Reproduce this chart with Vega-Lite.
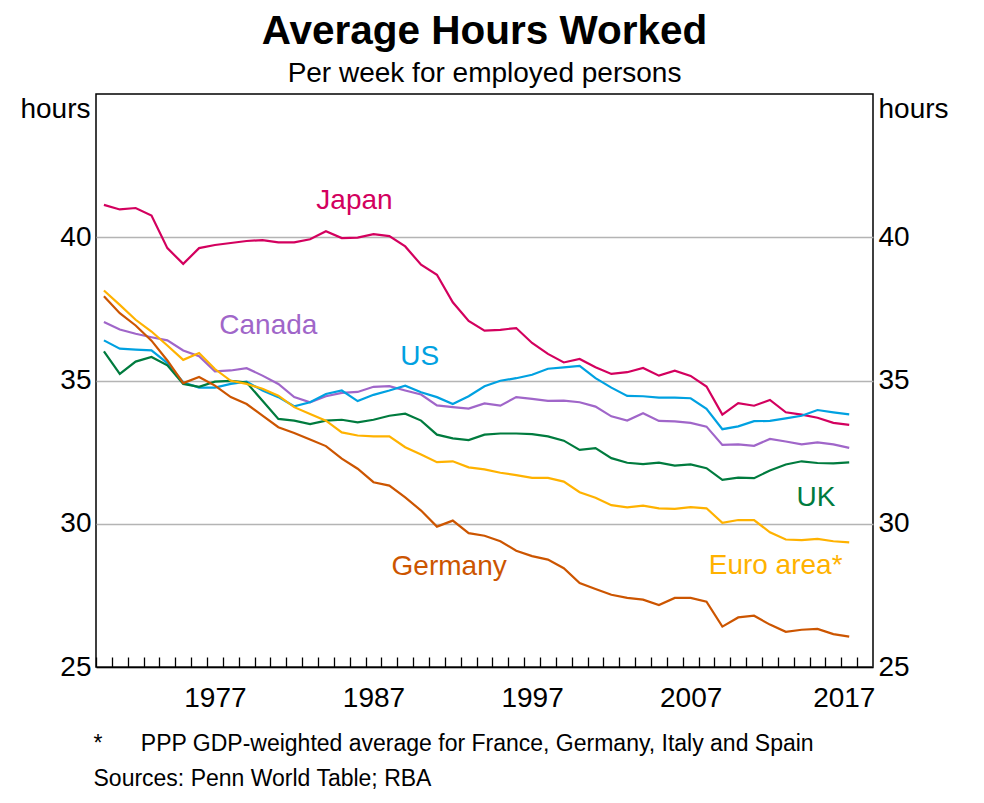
{
  "$schema": "https://vega.github.io/schema/vega-lite/v6.json",
  "autosize": {"type": "none"},
  "width": 777,
  "height": 573,
  "padding": {"left": 96, "top": 94, "right": 111, "bottom": 136},
  "background": "white",
  "title": {
    "text": "Average Hours Worked",
    "subtitle": "Per week for employed persons",
    "anchor": "middle",
    "frame": "group",
    "font": "Liberation Sans",
    "fontSize": 40.5,
    "fontWeight": "bold",
    "color": "black",
    "subtitleFont": "Liberation Sans",
    "subtitleFontSize": 28,
    "subtitleColor": "black",
    "subtitlePadding": 8,
    "offset": 6
  },
  "config": {
    "font": "Liberation Sans",
    "view": {"stroke": "black", "strokeWidth": 1.5}
  },
  "datasets": {
    "series": [
      {"country":"Japan","year":1970,"hours":41.13},{"country":"Japan","year":1971,"hours":40.97},{"country":"Japan","year":1972,"hours":41.02},{"country":"Japan","year":1973,"hours":40.76},{"country":"Japan","year":1974,"hours":39.62},{"country":"Japan","year":1975,"hours":39.07},{"country":"Japan","year":1976,"hours":39.62},{"country":"Japan","year":1977,"hours":39.73},{"country":"Japan","year":1978,"hours":39.8},{"country":"Japan","year":1979,"hours":39.87},{"country":"Japan","year":1980,"hours":39.9},{"country":"Japan","year":1981,"hours":39.82},{"country":"Japan","year":1982,"hours":39.82},{"country":"Japan","year":1983,"hours":39.93},{"country":"Japan","year":1984,"hours":40.21},{"country":"Japan","year":1985,"hours":39.97},{"country":"Japan","year":1986,"hours":39.99},{"country":"Japan","year":1987,"hours":40.11},{"country":"Japan","year":1988,"hours":40.04},{"country":"Japan","year":1989,"hours":39.68},{"country":"Japan","year":1990,"hours":39.04},{"country":"Japan","year":1991,"hours":38.69},{"country":"Japan","year":1992,"hours":37.73},{"country":"Japan","year":1993,"hours":37.08},{"country":"Japan","year":1994,"hours":36.74},{"country":"Japan","year":1995,"hours":36.77},{"country":"Japan","year":1996,"hours":36.83},{"country":"Japan","year":1997,"hours":36.31},{"country":"Japan","year":1998,"hours":35.93},{"country":"Japan","year":1999,"hours":35.63},{"country":"Japan","year":2000,"hours":35.75},{"country":"Japan","year":2001,"hours":35.46},{"country":"Japan","year":2002,"hours":35.23},{"country":"Japan","year":2003,"hours":35.29},{"country":"Japan","year":2004,"hours":35.44},{"country":"Japan","year":2005,"hours":35.17},{"country":"Japan","year":2006,"hours":35.34},{"country":"Japan","year":2007,"hours":35.16},{"country":"Japan","year":2008,"hours":34.79},{"country":"Japan","year":2009,"hours":33.81},{"country":"Japan","year":2010,"hours":34.21},{"country":"Japan","year":2011,"hours":34.12},{"country":"Japan","year":2012,"hours":34.32},{"country":"Japan","year":2013,"hours":33.89},{"country":"Japan","year":2014,"hours":33.81},{"country":"Japan","year":2015,"hours":33.7},{"country":"Japan","year":2016,"hours":33.52},{"country":"Japan","year":2017,"hours":33.45},
      {"country":"Canada","year":1970,"hours":37.04},{"country":"Canada","year":1971,"hours":36.78},{"country":"Canada","year":1972,"hours":36.63},{"country":"Canada","year":1973,"hours":36.51},{"country":"Canada","year":1974,"hours":36.4},{"country":"Canada","year":1975,"hours":36.05},{"country":"Canada","year":1976,"hours":35.85},{"country":"Canada","year":1977,"hours":35.32},{"country":"Canada","year":1978,"hours":35.35},{"country":"Canada","year":1979,"hours":35.43},{"country":"Canada","year":1980,"hours":35.17},{"country":"Canada","year":1981,"hours":34.88},{"country":"Canada","year":1982,"hours":34.42},{"country":"Canada","year":1983,"hours":34.24},{"country":"Canada","year":1984,"hours":34.45},{"country":"Canada","year":1985,"hours":34.57},{"country":"Canada","year":1986,"hours":34.6},{"country":"Canada","year":1987,"hours":34.78},{"country":"Canada","year":1988,"hours":34.8},{"country":"Canada","year":1989,"hours":34.65},{"country":"Canada","year":1990,"hours":34.51},{"country":"Canada","year":1991,"hours":34.13},{"country":"Canada","year":1992,"hours":34.07},{"country":"Canada","year":1993,"hours":34.02},{"country":"Canada","year":1994,"hours":34.2},{"country":"Canada","year":1995,"hours":34.12},{"country":"Canada","year":1996,"hours":34.42},{"country":"Canada","year":1997,"hours":34.36},{"country":"Canada","year":1998,"hours":34.29},{"country":"Canada","year":1999,"hours":34.3},{"country":"Canada","year":2000,"hours":34.24},{"country":"Canada","year":2001,"hours":34.09},{"country":"Canada","year":2002,"hours":33.75},{"country":"Canada","year":2003,"hours":33.6},{"country":"Canada","year":2004,"hours":33.86},{"country":"Canada","year":2005,"hours":33.59},{"country":"Canada","year":2006,"hours":33.57},{"country":"Canada","year":2007,"hours":33.52},{"country":"Canada","year":2008,"hours":33.39},{"country":"Canada","year":2009,"hours":32.75},{"country":"Canada","year":2010,"hours":32.77},{"country":"Canada","year":2011,"hours":32.72},{"country":"Canada","year":2012,"hours":32.96},{"country":"Canada","year":2013,"hours":32.87},{"country":"Canada","year":2014,"hours":32.77},{"country":"Canada","year":2015,"hours":32.84},{"country":"Canada","year":2016,"hours":32.77},{"country":"Canada","year":2017,"hours":32.65},
      {"country":"US","year":1970,"hours":36.4},{"country":"US","year":1971,"hours":36.11},{"country":"US","year":1972,"hours":36.08},{"country":"US","year":1973,"hours":36.05},{"country":"US","year":1974,"hours":35.61},{"country":"US","year":1975,"hours":34.94},{"country":"US","year":1976,"hours":34.75},{"country":"US","year":1977,"hours":34.75},{"country":"US","year":1978,"hours":34.88},{"country":"US","year":1979,"hours":34.96},{"country":"US","year":1980,"hours":34.65},{"country":"US","year":1981,"hours":34.42},{"country":"US","year":1982,"hours":34.1},{"country":"US","year":1983,"hours":34.24},{"country":"US","year":1984,"hours":34.53},{"country":"US","year":1985,"hours":34.65},{"country":"US","year":1986,"hours":34.28},{"country":"US","year":1987,"hours":34.5},{"country":"US","year":1988,"hours":34.65},{"country":"US","year":1989,"hours":34.82},{"country":"US","year":1990,"hours":34.59},{"country":"US","year":1991,"hours":34.42},{"country":"US","year":1992,"hours":34.18},{"country":"US","year":1993,"hours":34.45},{"country":"US","year":1994,"hours":34.8},{"country":"US","year":1995,"hours":34.99},{"country":"US","year":1996,"hours":35.08},{"country":"US","year":1997,"hours":35.2},{"country":"US","year":1998,"hours":35.41},{"country":"US","year":1999,"hours":35.46},{"country":"US","year":2000,"hours":35.51},{"country":"US","year":2001,"hours":35.08},{"country":"US","year":2002,"hours":34.75},{"country":"US","year":2003,"hours":34.46},{"country":"US","year":2004,"hours":34.45},{"country":"US","year":2005,"hours":34.4},{"country":"US","year":2006,"hours":34.4},{"country":"US","year":2007,"hours":34.38},{"country":"US","year":2008,"hours":34.01},{"country":"US","year":2009,"hours":33.3},{"country":"US","year":2010,"hours":33.4},{"country":"US","year":2011,"hours":33.58},{"country":"US","year":2012,"hours":33.59},{"country":"US","year":2013,"hours":33.68},{"country":"US","year":2014,"hours":33.77},{"country":"US","year":2015,"hours":33.97},{"country":"US","year":2016,"hours":33.89},{"country":"US","year":2017,"hours":33.82},
      {"country":"UK","year":1970,"hours":36.02},{"country":"UK","year":1971,"hours":35.23},{"country":"UK","year":1972,"hours":35.66},{"country":"UK","year":1973,"hours":35.82},{"country":"UK","year":1974,"hours":35.53},{"country":"UK","year":1975,"hours":34.88},{"country":"UK","year":1976,"hours":34.78},{"country":"UK","year":1977,"hours":34.96},{"country":"UK","year":1978,"hours":34.99},{"country":"UK","year":1979,"hours":34.93},{"country":"UK","year":1980,"hours":34.29},{"country":"UK","year":1981,"hours":33.66},{"country":"UK","year":1982,"hours":33.6},{"country":"UK","year":1983,"hours":33.48},{"country":"UK","year":1984,"hours":33.6},{"country":"UK","year":1985,"hours":33.63},{"country":"UK","year":1986,"hours":33.54},{"country":"UK","year":1987,"hours":33.63},{"country":"UK","year":1988,"hours":33.77},{"country":"UK","year":1989,"hours":33.84},{"country":"UK","year":1990,"hours":33.6},{"country":"UK","year":1991,"hours":33.11},{"country":"UK","year":1992,"hours":32.98},{"country":"UK","year":1993,"hours":32.92},{"country":"UK","year":1994,"hours":33.11},{"country":"UK","year":1995,"hours":33.15},{"country":"UK","year":1996,"hours":33.15},{"country":"UK","year":1997,"hours":33.13},{"country":"UK","year":1998,"hours":33.05},{"country":"UK","year":1999,"hours":32.9},{"country":"UK","year":2000,"hours":32.58},{"country":"UK","year":2001,"hours":32.64},{"country":"UK","year":2002,"hours":32.29},{"country":"UK","year":2003,"hours":32.13},{"country":"UK","year":2004,"hours":32.08},{"country":"UK","year":2005,"hours":32.13},{"country":"UK","year":2006,"hours":32.03},{"country":"UK","year":2007,"hours":32.07},{"country":"UK","year":2008,"hours":31.94},{"country":"UK","year":2009,"hours":31.53},{"country":"UK","year":2010,"hours":31.61},{"country":"UK","year":2011,"hours":31.59},{"country":"UK","year":2012,"hours":31.86},{"country":"UK","year":2013,"hours":32.07},{"country":"UK","year":2014,"hours":32.18},{"country":"UK","year":2015,"hours":32.12},{"country":"UK","year":2016,"hours":32.11},{"country":"UK","year":2017,"hours":32.14},
      {"country":"Germany","year":1970,"hours":37.94},{"country":"Germany","year":1971,"hours":37.35},{"country":"Germany","year":1972,"hours":36.92},{"country":"Germany","year":1973,"hours":36.39},{"country":"Germany","year":1974,"hours":35.7},{"country":"Germany","year":1975,"hours":34.91},{"country":"Germany","year":1976,"hours":35.12},{"country":"Germany","year":1977,"hours":34.82},{"country":"Germany","year":1978,"hours":34.42},{"country":"Germany","year":1979,"hours":34.18},{"country":"Germany","year":1980,"hours":33.77},{"country":"Germany","year":1981,"hours":33.37},{"country":"Germany","year":1982,"hours":33.17},{"country":"Germany","year":1983,"hours":32.94},{"country":"Germany","year":1984,"hours":32.71},{"country":"Germany","year":1985,"hours":32.27},{"country":"Germany","year":1986,"hours":31.92},{"country":"Germany","year":1987,"hours":31.45},{"country":"Germany","year":1988,"hours":31.33},{"country":"Germany","year":1989,"hours":30.92},{"country":"Germany","year":1990,"hours":30.46},{"country":"Germany","year":1991,"hours":29.9},{"country":"Germany","year":1992,"hours":30.11},{"country":"Germany","year":1993,"hours":29.67},{"country":"Germany","year":1994,"hours":29.58},{"country":"Germany","year":1995,"hours":29.39},{"country":"Germany","year":1996,"hours":29.06},{"country":"Germany","year":1997,"hours":28.87},{"country":"Germany","year":1998,"hours":28.75},{"country":"Germany","year":1999,"hours":28.45},{"country":"Germany","year":2000,"hours":27.93},{"country":"Germany","year":2001,"hours":27.72},{"country":"Germany","year":2002,"hours":27.52},{"country":"Germany","year":2003,"hours":27.41},{"country":"Germany","year":2004,"hours":27.35},{"country":"Germany","year":2005,"hours":27.16},{"country":"Germany","year":2006,"hours":27.41},{"country":"Germany","year":2007,"hours":27.41},{"country":"Germany","year":2008,"hours":27.28},{"country":"Germany","year":2009,"hours":26.41},{"country":"Germany","year":2010,"hours":26.73},{"country":"Germany","year":2011,"hours":26.79},{"country":"Germany","year":2012,"hours":26.48},{"country":"Germany","year":2013,"hours":26.23},{"country":"Germany","year":2014,"hours":26.3},{"country":"Germany","year":2015,"hours":26.33},{"country":"Germany","year":2016,"hours":26.15},{"country":"Germany","year":2017,"hours":26.06},
      {"country":"Euro area","year":1970,"hours":38.14},{"country":"Euro area","year":1971,"hours":37.64},{"country":"Euro area","year":1972,"hours":37.12},{"country":"Euro area","year":1973,"hours":36.71},{"country":"Euro area","year":1974,"hours":36.22},{"country":"Euro area","year":1975,"hours":35.72},{"country":"Euro area","year":1976,"hours":35.96},{"country":"Euro area","year":1977,"hours":35.4},{"country":"Euro area","year":1978,"hours":34.99},{"country":"Euro area","year":1979,"hours":34.88},{"country":"Euro area","year":1980,"hours":34.71},{"country":"Euro area","year":1981,"hours":34.47},{"country":"Euro area","year":1982,"hours":34.07},{"country":"Euro area","year":1983,"hours":33.83},{"country":"Euro area","year":1984,"hours":33.6},{"country":"Euro area","year":1985,"hours":33.19},{"country":"Euro area","year":1986,"hours":33.08},{"country":"Euro area","year":1987,"hours":33.05},{"country":"Euro area","year":1988,"hours":33.05},{"country":"Euro area","year":1989,"hours":32.67},{"country":"Euro area","year":1990,"hours":32.42},{"country":"Euro area","year":1991,"hours":32.15},{"country":"Euro area","year":1992,"hours":32.18},{"country":"Euro area","year":1993,"hours":31.97},{"country":"Euro area","year":1994,"hours":31.9},{"country":"Euro area","year":1995,"hours":31.78},{"country":"Euro area","year":1996,"hours":31.7},{"country":"Euro area","year":1997,"hours":31.6},{"country":"Euro area","year":1998,"hours":31.6},{"country":"Euro area","year":1999,"hours":31.47},{"country":"Euro area","year":2000,"hours":31.1},{"country":"Euro area","year":2001,"hours":30.91},{"country":"Euro area","year":2002,"hours":30.65},{"country":"Euro area","year":2003,"hours":30.57},{"country":"Euro area","year":2004,"hours":30.63},{"country":"Euro area","year":2005,"hours":30.54},{"country":"Euro area","year":2006,"hours":30.52},{"country":"Euro area","year":2007,"hours":30.58},{"country":"Euro area","year":2008,"hours":30.54},{"country":"Euro area","year":2009,"hours":30.03},{"country":"Euro area","year":2010,"hours":30.13},{"country":"Euro area","year":2011,"hours":30.13},{"country":"Euro area","year":2012,"hours":29.7},{"country":"Euro area","year":2013,"hours":29.45},{"country":"Euro area","year":2014,"hours":29.43},{"country":"Euro area","year":2015,"hours":29.47},{"country":"Euro area","year":2016,"hours":29.39},{"country":"Euro area","year":2017,"hours":29.35}
    ],
    "labels": [
      {"label": "Japan", "country": "Japan", "year": 1985.8, "hours": 40.98},
      {"label": "Canada", "country": "Canada", "year": 1980.37, "hours": 36.63},
      {"label": "US", "country": "US", "year": 1989.92, "hours": 35.55},
      {"label": "UK", "country": "UK", "year": 2014.9, "hours": 30.63},
      {"label": "Germany", "country": "Germany", "year": 1991.77, "hours": 28.2},
      {"label": "Euro area*", "country": "Euro area", "year": 2012.36, "hours": 28.25}
    ]
  },
  "encoding": {
    "x": {
      "field": "year",
      "type": "quantitative",
      "scale": {"domain": [1969.5, 2018.5], "nice": false, "zero": false},
      "axis": {
        "orient": "bottom",
        "values": [1970,1971,1972,1973,1974,1975,1976,1977,1978,1979,1980,1981,1982,1983,1984,1985,1986,1987,1988,1989,1990,1991,1992,1993,1994,1995,1996,1997,1998,1999,2000,2001,2002,2003,2004,2005,2006,2007,2008,2009,2010,2011,2012,2013,2014,2015,2016,2017,2018],
        "format": "d",
        "labelExpr": "(datum.value - 1977) % 10 === 0 ? datum.label : ''",
        "tickOffset": -7.93,
        "labelOffset": {"condition": {"test": "datum.value === 2017", "value": 2.5}, "value": 7.93},
        "tickSize": -10,
        "tickColor": "black",
        "tickWidth": 1.3,
        "domainColor": "black",
        "domainWidth": 1.5,
        "grid": false,
        "labelFontSize": 28,
        "labelColor": "black",
        "labelBaseline": "alphabetic",
        "labelPadding": 49.4,
        "labelOverlap": false,
        "labelBound": false,
        "labelFlush": false,
        "title": ["*\u00a0\u00a0\u00a0\u00a0\u00a0\u00a0PPP GDP-weighted average for France, Germany, Italy and Spain", "Sources: Penn World Table; RBA"],
        "titleFontSize": 23,
        "titleFontWeight": "normal",
        "titleColor": "black",
        "titleAlign": "left",
        "titleBaseline": "alphabetic",
        "titleX": -3,
        "titleY": 83,
        "titleLineHeight": 35
      }
    }
  },
  "layer": [
    {
      "data": {"name": "series"},
      "mark": {"type": "line", "strokeWidth": 2.2},
      "encoding": {
        "y": {
          "field": "hours",
          "type": "quantitative",
          "scale": {"domain": [25, 45], "nice": false, "zero": false},
          "axis": {
            "orient": "left",
            "values": [25, 30, 35, 40],
            "grid": true,
            "gridColor": "#b4b4b4",
            "gridWidth": 1.3,
            "domain": false,
            "ticks": false,
            "labelFontSize": 28,
            "labelColor": "black",
            "labelPadding": 5,
            "title": "hours",
            "titleAngle": 0,
            "titleAlign": "right",
            "titleBaseline": "alphabetic",
            "titleX": -6,
            "titleY": 23,
            "titleFontSize": 28,
            "titleFontWeight": "normal",
            "titleColor": "black"
          }
        },
        "color": {
          "field": "country",
          "type": "nominal",
          "scale": {
            "domain": ["Japan", "Canada", "US", "UK", "Germany", "Euro area"],
            "range": ["#D3005E", "#A066C9", "#00A1E1", "#007B3E", "#CC5500", "#FFB200"]
          },
          "legend": null
        }
      }
    },
    {
      "data": {"name": "labels"},
      "mark": {"type": "text", "fontSize": 28, "align": "center", "baseline": "alphabetic"},
      "encoding": {
        "y": {
          "field": "hours",
          "type": "quantitative",
          "axis": {
            "orient": "right",
            "values": [25, 30, 35, 40],
            "grid": false,
            "domain": false,
            "ticks": false,
            "labelFontSize": 28,
            "labelColor": "black",
            "labelPadding": 5,
            "title": "hours",
            "titleAngle": 0,
            "titleAlign": "left",
            "titleBaseline": "alphabetic",
            "titleX": 5,
            "titleY": 23,
            "titleFontSize": 28,
            "titleFontWeight": "normal",
            "titleColor": "black"
          }
        },
        "text": {"field": "label"},
        "color": {"field": "country", "type": "nominal", "legend": null}
      }
    }
  ],
  "resolve": {"axis": {"y": "independent"}}
}
